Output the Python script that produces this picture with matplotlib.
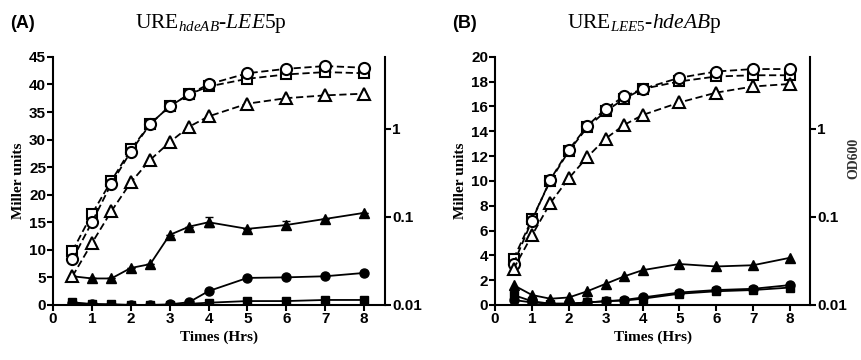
import numpy as np
import matplotlib
matplotlib.use('Agg')
import matplotlib.pyplot as plt

plt.rcParams['font.family'] = ['Liberation Sans', 'DejaVu Sans']
plt.rcParams['mathtext.fontset'] = 'custom'
plt.rcParams['mathtext.rm'] = 'Liberation Serif'
plt.rcParams['mathtext.it'] = 'Liberation Serif:italic'
plt.rcParams['mathtext.bf'] = 'Liberation Serif:bold'

# time points (hours)
hours = [0.5, 1, 1.5, 2, 2.5, 3, 3.5, 4, 5, 6, 7, 8]

# panel A - Miller units (filled markers, left axis)
a_tri = [5.2, 4.8, 4.8, 6.7, 7.4, 12.7, 14.2, 15.0, 13.8, 14.5, 15.6, 16.7]
a_tri_err = [0, 0, 0, 0, 0, 0, 0, 0.9, 0, 0.7, 0, 0]
a_circ = [0.3, 0.2, 0.05, 0.0, 0.0, 0.1, 0.5, 2.5, 4.9, 5.0, 5.2, 5.8]
a_sq = [0.5, 0.1, 0.1, 0.0, 0.0, 0.0, 0.2, 0.4, 0.7, 0.7, 0.9, 0.9]
# panel A - OD600 (open markers, right log axis)
a_od_sq = [0.041, 0.108, 0.257, 0.586, 1.14, 1.81, 2.48, 3.04, 3.72, 4.17, 4.43, 4.30]
a_od_circ = [0.033, 0.087, 0.239, 0.553, 1.14, 1.81, 2.48, 3.22, 4.30, 4.83, 5.19, 4.97]
a_od_tri = [0.0212, 0.0504, 0.116, 0.247, 0.446, 0.707, 1.06, 1.39, 1.94, 2.24, 2.41, 2.52]

# panel B - Miller units
b_tri = [1.6, 0.8, 0.5, 0.6, 1.1, 1.7, 2.3, 2.8, 3.3, 3.1, 3.2, 3.8]
b_circ = [0.4, 0.2, 0.1, 0.1, 0.2, 0.3, 0.4, 0.6, 1.0, 1.2, 1.3, 1.6]
b_sq = [0.8, 0.3, 0.1, 0.1, 0.2, 0.3, 0.35, 0.5, 0.9, 1.1, 1.2, 1.4]
# panel B - OD600
b_od_circ = [0.0292, 0.091, 0.266, 0.580, 1.08, 1.70, 2.35, 2.85, 3.82, 4.50, 4.80, 4.80]
b_od_sq = [0.0333, 0.094, 0.258, 0.562, 1.04, 1.59, 2.20, 2.85, 3.47, 3.95, 4.08, 4.08]
b_od_tri = [0.0257, 0.0617, 0.144, 0.275, 0.478, 0.778, 1.11, 1.44, 2.00, 2.59, 3.04, 3.25]

titles = [r'$\mathrm{URE}_{\mathit{hdeAB}}\text{-}\mathit{LEE5}\mathrm{p}$',
          r'$\mathrm{URE}_{\mathit{LEE5}}\text{-}\mathit{hdeAB}\mathrm{p}$']
tags = ['(A)', '(B)']
left_lims = [45, 20]
left_ticks = [np.arange(0, 46, 5), np.arange(0, 21, 2)]

fig = plt.figure(figsize=(8.61, 3.6), dpi=100)
boxes = [[0.0616, 0.153, 0.386, 0.689], [0.575, 0.153, 0.366, 0.689]]

panels = [
    (a_tri, a_circ, a_sq, a_od_sq, a_od_circ, a_od_tri, a_tri_err),
    (b_tri, b_circ, b_sq, b_od_sq, b_od_circ, b_od_tri, None),
]

serif = 'Liberation Serif'
for i, (tri, circ, sq, od_sq, od_circ, od_tri, err) in enumerate(panels):
    ax = fig.add_axes(boxes[i])
    ms = 6.5
    ax.errorbar(hours, tri, yerr=err, color='black', lw=1.3, marker='^', ms=ms,
                capsize=3, elinewidth=1.2, zorder=3)
    ax.plot(hours, circ, color='black', lw=1.3, marker='o', ms=ms, zorder=3)
    ax.plot(hours, sq, color='black', lw=1.3, marker='s', ms=ms - 0.5, zorder=3)
    ax.set_xlim(0, 8.55)
    ax.set_ylim(0, left_lims[i])
    ax.set_xticks(range(0, 9))
    ax.set_yticks(left_ticks[i])
    ax.spines['top'].set_visible(False)
    ax.spines['right'].set_visible(False)
    for sp in ['left', 'bottom']:
        ax.spines[sp].set_linewidth(1.5)
    ax.tick_params(width=1.5, length=4, labelsize=11, pad=1)
    for lab in ax.get_xticklabels() + ax.get_yticklabels():
        lab.set_fontweight('bold')
    ax.set_ylabel('Miller units', fontfamily=serif, fontweight='bold', fontsize=11, labelpad=3)
    ax.set_xlabel('Times (Hrs)', fontfamily=serif, fontweight='bold', fontsize=11, labelpad=3)

    ax2 = ax.twinx()
    ax2.set_yscale('log')
    ax2.set_ylim(0.01, 6.6)
    for vals, mk in [(od_sq, 's'), (od_circ, 'o'), (od_tri, '^')]:
        ax2.plot(hours, vals, color='black', lw=1.3, ls=(0, (4, 2)), marker=mk,
                 ms=8 if mk != 's' else 7.5, mfc='white', mec='black', mew=1.5, zorder=3)
    ax2.set_yticks([0.01, 0.1, 1])
    ax2.set_yticklabels(['0.01', '0.1', '1'])
    ax2.minorticks_off()
    ax2.spines['top'].set_visible(False)
    ax2.spines['left'].set_visible(False)
    ax2.spines['bottom'].set_visible(False)
    ax2.spines['right'].set_linewidth(1.5)
    ax2.tick_params(width=1.5, length=4, labelsize=11, pad=1)
    for lab in ax2.get_yticklabels():
        lab.set_fontweight('bold')

    cx = boxes[i][0] + boxes[i][2] / 2 - 0.01
    fig.text(cx, 0.935, titles[i], ha='center', va='center', fontsize=15.5)
    fig.text(boxes[i][0] - 0.05, 0.935, tags[i], ha='left', va='center',
             fontsize=13, fontweight='bold')

fig.text(0.999, 0.56, 'OD600', rotation=90, ha='right', va='center',
         fontfamily=serif, fontweight='bold', fontsize=10, color='#333333')

fig.savefig('out.png', dpi=100)
